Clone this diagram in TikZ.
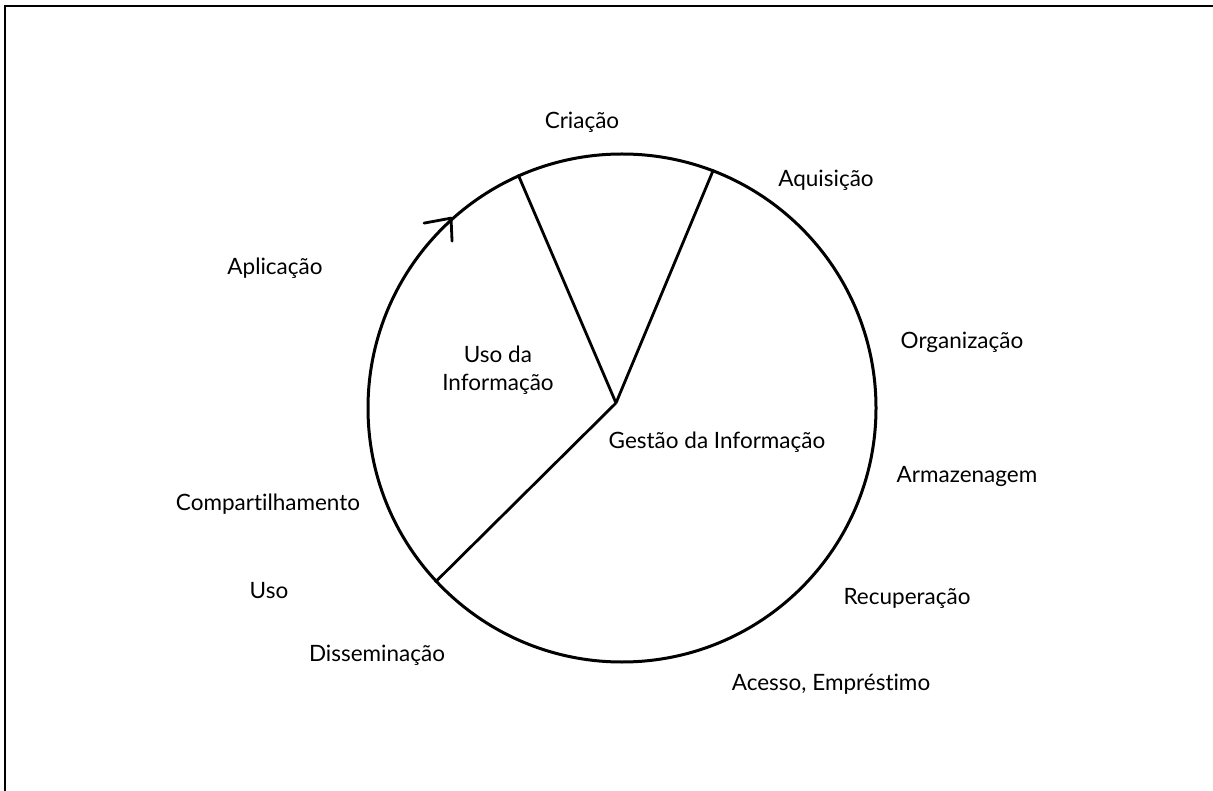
\documentclass[tikz,border=0pt]{standalone}
\usepackage{fontspec}
\setmainfont{Lato}[Ligatures={NoCommon}]
\begin{document}
\begin{tikzpicture}[x=1pt,y=-1pt,
  lbl/.style={font=\fontsize{22.5}{28}\selectfont, inner sep=0pt, align=center},
  ring/.style={draw, circle, line width=3pt, minimum size=508pt, inner sep=0pt},
  spoke/.style={line width=2.8pt},
  barb/.style={line width=2.8pt, line cap=round},
  frameline/.style={line width=2.6pt}]
\useasboundingbox (0,0) rectangle (1213,791);
% outer frame (top and left edges)
\draw[frameline] (5,791) -- (5,6) -- (1213,6);

% the information cycle wheel
\node[ring] (wheel) at (622,408) {};
\coordinate (hub) at (616,403);
\draw[spoke] (hub) -- (wheel.114.4);
\draw[spoke] (hub) -- (wheel.69.3);
\draw[spoke] (hub) -- (wheel.223.7);

% direction arrow on the rim
\coordinate (tip) at (wheel.132);
\draw[barb] (tip) -- ++(-27,5);
\draw[barb] (tip) -- ++(1,23);

% sector labels
\node[lbl] (uso) at (498,370) {Uso da\\Informação};
\node[lbl] (gestao) at (717,442) {Gestão da Informação};

% stage labels around the wheel
\node[lbl] (criacao) at (582,122) {Criação};
\node[lbl] (aquisicao) at (826,180) {Aquisição};
\node[lbl] (aplicacao) at (275,268) {Aplicação};
\node[lbl] (organizacao) at (962,342) {Organização};
\node[lbl] (armazenagem) at (967,476) {Armazenagem};
\node[lbl] (compart) at (268,504) {Compartilhamento};
\node[lbl] (usoet) at (269,591) {Uso};
\node[lbl] (recuperacao) at (907,598) {Recuperação};
\node[lbl] (dissem) at (377,655) {Disseminação};
\node[lbl] (acesso) at (831,684) {Acesso, Empréstimo};
\end{tikzpicture}
\end{document}
